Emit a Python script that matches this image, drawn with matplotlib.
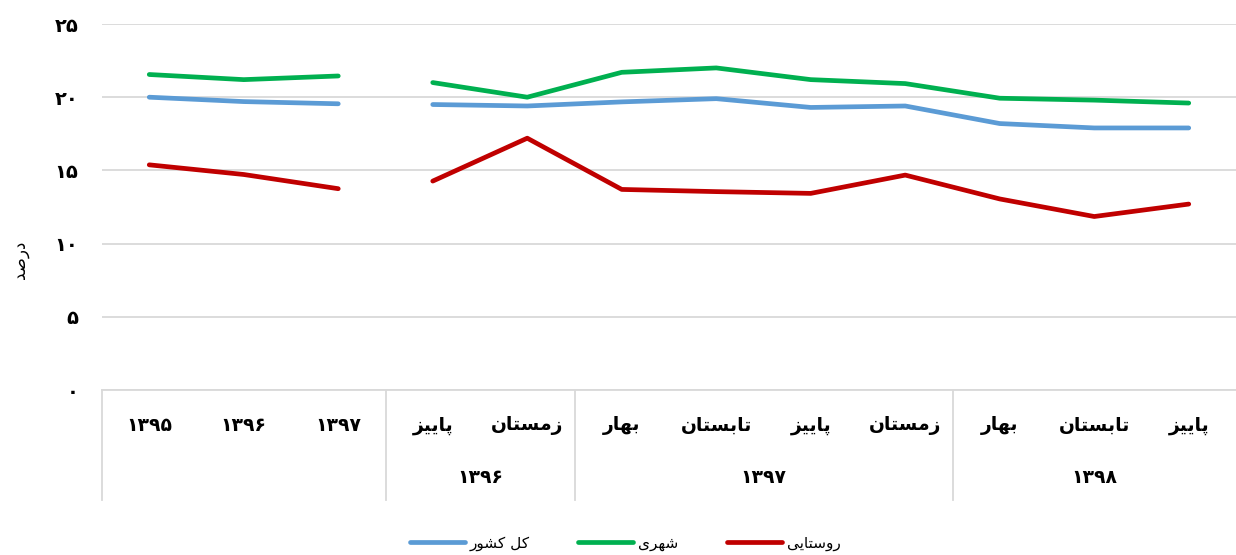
import matplotlib
matplotlib.use("Agg")
import matplotlib.pyplot as plt
from matplotlib.lines import Line2D
import matplotlib.transforms as mtransforms

# ─────────────────────────────────────────────
# DATA  (percent)
# ─────────────────────────────────────────────
categories = ["۱۳۹۵", "۱۳۹۶", "۱۳۹۷",
              "پاییز", "زمستان",
              "بهار", "تابستان", "پاییز", "زمستان",
              "بهار", "تابستان", "پاییز"]
groups = [("۱۳۹۶", 3, 4), ("۱۳۹۷", 5, 8), ("۱۳۹۸", 9, 11)]

total = [20.0, 19.7, 19.55, 19.5, 19.4, 19.68, 19.9, 19.3, 19.4, 18.2, 17.9, 17.9]
urban = [21.55, 21.2, 21.45, 21.0, 20.0, 21.7, 22.0, 21.2, 20.93, 19.93, 19.8, 19.6]
rural = [15.38, 14.72, 13.75, 14.27, 17.2, 13.7, 13.55, 13.43, 14.68, 13.05, 11.85, 12.7]

series = [("کل کشور", total, "#5B9BD5"),
          ("شهری", urban, "#00B050"),
          ("روستایی", rural, "#C00000")]

yticks = [0, 5, 10, 15, 20, 25]
fa_digits = str.maketrans("0123456789", "۰۱۲۳۴۵۶۷۸۹")

# ─────────────────────────────────────────────
# Minimal Persian shaping (matplotlib has no bidi / joining)
# ─────────────────────────────────────────────
FORMS = {  # iso, fin, init, med
    "ا": ("\uFE8D", "\uFE8E", None, None),
    "ب": ("\uFE8F", "\uFE90", "\uFE91", "\uFE92"),
    "ت": ("\uFE95", "\uFE96", "\uFE97", "\uFE98"),
    "د": ("\uFEA9", "\uFEAA", None, None),
    "ر": ("\uFEAD", "\uFEAE", None, None),
    "ز": ("\uFEAF", "\uFEB0", None, None),
    "س": ("\uFEB1", "\uFEB2", "\uFEB3", "\uFEB4"),
    "ش": ("\uFEB5", "\uFEB6", "\uFEB7", "\uFEB8"),
    "ص": ("\uFEB9", "\uFEBA", "\uFEBB", "\uFEBC"),
    "ل": ("\uFEDD", "\uFEDE", "\uFEDF", "\uFEE0"),
    "م": ("\uFEE1", "\uFEE2", "\uFEE3", "\uFEE4"),
    "ن": ("\uFEE5", "\uFEE6", "\uFEE7", "\uFEE8"),
    "ه": ("\uFEE9", "\uFEEA", "\uFEEB", "\uFEEC"),
    "و": ("\uFEED", "\uFEEE", None, None),
    "پ": ("\uFB56", "\uFB57", "\uFB58", "\uFB59"),
    "ک": ("\uFB8E", "\uFB8F", "\uFB90", "\uFB91"),
    "ی": ("\uFBFC", "\uFBFD", "\uFBFE", "\uFBFF"),
}


def fa(text):
    if all(ch in "۰۱۲۳۴۵۶۷۸۹0123456789" for ch in text):
        return text
    out = []
    for i, ch in enumerate(text):
        if ch not in FORMS:
            out.append(ch)
            continue
        prev = text[i - 1] if i > 0 else ""
        nxt = text[i + 1] if i + 1 < len(text) else ""
        join_prev = prev in FORMS and FORMS[prev][2] is not None
        join_next = FORMS[ch][2] is not None and nxt in FORMS
        iso, fin, ini, med = FORMS[ch]
        if join_prev and join_next:
            out.append(med)
        elif join_prev:
            out.append(fin)
        elif join_next:
            out.append(ini)
        else:
            out.append(iso)
    return "".join(out)[::-1]


FONT = ["DejaVu Sans"]

# ─────────────────────────────────────────────
# PLOT
# ─────────────────────────────────────────────
fig = plt.figure(figsize=(12.36, 5.55), dpi=100)
ax = fig.add_axes([102 / 1236, 1 - 390 / 555, 1 - 102 / 1236, 366 / 555])

x = list(range(len(categories)))
for name, vals, color in series:
    ax.plot(x[:3], vals[:3], color=color, lw=3.4, solid_capstyle="round",
            solid_joinstyle="round")
    ax.plot(x[3:], vals[3:], color=color, lw=3.4, solid_capstyle="round",
            solid_joinstyle="round", label=fa(name))

ax.set_xlim(-0.5, len(categories) - 0.5)
ax.set_ylim(0, 25)
ax.set_yticks(yticks)
ax.set_yticklabels([str(t).translate(fa_digits) for t in yticks],
                   fontweight="bold", fontsize=14, family=FONT)
ax.tick_params(axis="y", length=0, pad=17)
ax.set_xticks([])
ax.grid(axis="y", color="#d9d9d9", lw=1.3)
ax.set_axisbelow(True)
for s in ["top", "right", "left"]:
    ax.spines[s].set_visible(False)
ax.spines["bottom"].set_color("#d9d9d9")
ax.spines["bottom"].set_linewidth(1.3)

fig.text(20 / 1236, 1 - 260 / 555, fa("درصد"), rotation=90, ha="center",
         va="center", fontsize=12, family=FONT)

# — category axis (two rows) —
trans = mtransforms.blended_transform_factory(ax.transData, ax.transAxes)
for i, lab in enumerate(categories):
    ax.text(i, -0.097, fa(lab), transform=trans, ha="center", va="center",
            fontsize=13.5, fontweight="bold", family=FONT)
for lab, a, b in groups:
    ax.text((a + b) / 2, -0.24, fa(lab), transform=trans, ha="center",
            va="center", fontsize=13.5, fontweight="bold", family=FONT)
for sx in [-0.5, 2.5, 4.5, 8.5]:
    ax.add_line(Line2D([sx, sx], [0, -0.30], transform=trans, color="#d9d9d9",
                       lw=1.3, clip_on=False))

leg = fig.legend(*ax.get_legend_handles_labels(), loc="center",
                 bbox_to_anchor=(625 / 1236, 1 - 543 / 555), ncol=3,
                 frameon=False, prop={"family": FONT, "size": 11},
                 handlelength=3.6, columnspacing=3.2, handletextpad=0.3)

fig.savefig("out.png", dpi=100)
